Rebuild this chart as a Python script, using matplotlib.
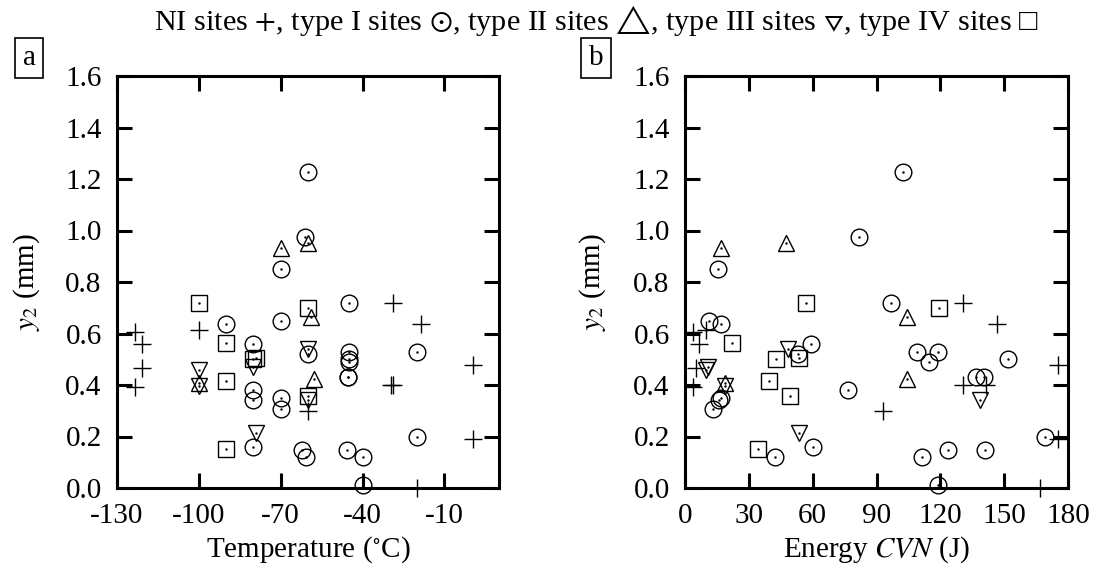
import numpy as np
import matplotlib
matplotlib.use('Agg')
import matplotlib.pyplot as plt

plt.rcParams['font.family'] = ['Liberation Serif', 'DejaVu Serif']
plt.rcParams['mathtext.fontset'] = 'stix'
plt.rcParams['axes.unicode_minus'] = False

# NI sites (+)
ni_temp = [-123.3, -99.8, -121, -121, -123.3, -28.7, -18.7, -29.6, -28.7, -60, 0.6, 0.6, -20]
ni_energy = [3.9, 10, 6.6, 5, 3.9, 130.5, 146.6, 130.5, 141.6, 93, 175.3, 175.3, 167]
ni_y = [0.607, 0.612, 0.559, 0.465, 0.392, 0.718, 0.638, 0.399, 0.399, 0.298, 0.478, 0.189, 0.0]

# type I sites (circle with dot)
t1_temp = [-60, -61, -70, -45, -70, -90, -80, -60, -45, -20, -45, -45, -45.5, -45.5,
           -80, -70, -80, -70, -80, -62.3, -45.7, -60.9, -39.7, -40, -20]
t1_energy = [102.3, 82, 15.3, 97, 11.3, 16.9, 59, 53.3, 108.8, 118.8, 151.6, 114.5, 136.7, 140.6,
             76.4, 17, 16, 13.3, 60.2, 123.6, 140.8, 42.2, 111.3, 118.8, 169.4]
t1_y = [1.227, 0.973, 0.849, 0.718, 0.649, 0.636, 0.56, 0.522, 0.527, 0.528, 0.50, 0.489, 0.432, 0.430,
        0.381, 0.348, 0.342, 0.305, 0.158, 0.149, 0.149, 0.122, 0.122, 0.012, 0.2]

# type II sites (triangle up)
t2_temp = [-70, -60, -58.8, -57.8, -100]
t2_energy = [16.9, 47.3, 104.2, 104.2, 18.75]
t2_y = [0.933, 0.953, 0.665, 0.422, 0.406]

# type III sites (triangle down)
t3_temp = [-60, -100, -80, -100, -60, -79.2]
t3_energy = [48.4, 10, 11, 18.75, 138.75, 53.6]
t3_y = [0.54, 0.458, 0.468, 0.396, 0.342, 0.212]

# type IV sites (square)
t4_temp = [-100, -90, -60, -80, -79, -90, -60, -90]
t4_energy = [57, 21.9, 119.5, 42.7, 53.4, 39.7, 49.2, 34.2]
t4_y = [0.718, 0.564, 0.699, 0.501, 0.503, 0.416, 0.357, 0.152]

y_ticks = [0.0, 0.2, 0.4, 0.6, 0.8, 1.0, 1.2, 1.4, 1.6]
temp_ticks = [-130, -100, -70, -40, -10]
energy_ticks = [0, 30, 60, 90, 120, 150, 180]


def draw(ax, xs, ylab_x):
    x_ni, x1, x2, x3, x4 = xs
    kw = dict(ls='none', mfc='none', mec='black', mew=1.0, clip_on=False)
    ax.plot(x_ni, ni_y, marker='+', ms=13, **kw)
    ax.plot(x1, t1_y, marker='o', ms=12, **kw)
    ax.plot(x2, t2_y, marker='^', ms=12, **kw)
    ax.plot(x3, t3_y, marker='v', ms=12, **kw)
    ax.plot(x4, t4_y, marker='s', ms=12, **kw)
    # centre dots
    for xx, yy in [(x1, t1_y), (x2, t2_y), (x3, t3_y), (x4, t4_y)]:
        ax.plot(xx, yy, ls='none', marker='.', ms=1.5, color='black', clip_on=False)
    ax.set_ylim(0, 1.6)
    ax.set_yticks(y_ticks)
    ax.set_yticklabels(['%.1f' % v for v in y_ticks])
    ax.tick_params(direction='in', length=11, width=2.2, labelsize=21,
                   top=True, right=True, pad=11)
    for s in ax.spines.values():
        s.set_linewidth(2.2)
    ax.set_ylabel('$y_2$ (mm)', fontsize=21)
    ax.yaxis.set_label_coords(ylab_x, 0.5)
    ax.xaxis.set_label_coords(0.5, -0.112)


fig = plt.figure(figsize=(10.97, 5.77), dpi=100)
ax1 = fig.add_axes([117/1097, 89/577, 382/1097, 412/577])
ax2 = fig.add_axes([685/1097, 89/577, 383/1097, 412/577])

draw(ax1, (ni_temp, t1_temp, t2_temp, t3_temp, t4_temp), -0.197)
ax1.set_xlim(-130, 10)
ax1.set_xticks(temp_ticks)
ax1.set_xticklabels([str(v) for v in temp_ticks])
ax1.set_xlabel('Temperature ($^{\\circ}$C)', fontsize=21)

draw(ax2, (ni_energy, t1_energy, t2_energy, t3_energy, t4_energy), -0.2)
ax2.set_xlim(0, 180)
ax2.set_xticks(energy_ticks)
ax2.set_xticklabels([str(v) for v in energy_ticks])
ax2.set_xlabel('Energy $CVN$ (J)', fontsize=21)

fig.text(0.544, 1 - 20/577,
         r'NI sites $+$, type I sites $\odot$, type II sites $\bigtriangleup$, '
         r'type III sites $\triangledown$, type IV sites ' + '\u25a1',
         ha='center', va='center', fontsize=21.8)

box = dict(boxstyle='square,pad=0.25', fc='white', ec='black', lw=1.2)
fig.text(29/1097, 1 - 58/577, 'a', ha='center', va='center', fontsize=21, bbox=box)
fig.text(596/1097, 1 - 58/577, 'b', ha='center', va='center', fontsize=21, bbox=box)

fig.savefig('out.png', dpi=100)
